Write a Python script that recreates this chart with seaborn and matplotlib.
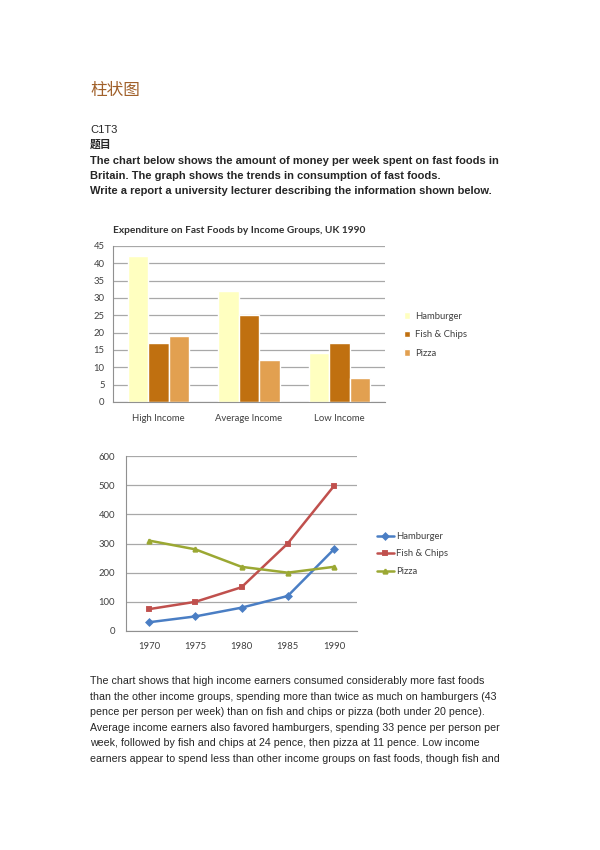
import pandas as pd
import numpy as np
import matplotlib
matplotlib.use("Agg")
import matplotlib.pyplot as plt
import seaborn as sns
from matplotlib.ticker import FixedLocator

sns.set_style("white")
plt.rcParams['font.family'] = ['Liberation Sans', 'Noto Sans CJK SC', 'DejaVu Sans']

# ---- data -----------------------------------------------------------------
income_groups = ["High Income", "Average Income", "Low Income"]
foods = ["Hamburger", "Fish & Chips", "Pizza"]
spend_hamburger = [42, 32, 14]
spend_fish = [17, 25, 17]
spend_pizza = [19, 12, 7]

years = ["1970", "1975", "1980", "1985", "1990"]
cons_hamburger = [30, 50, 80, 120, 280]
cons_fish = [75, 100, 150, 300, 497]
cons_pizza = [310, 280, 220, 200, 220]

bar_colors = ["#FFFFC0", "#C07010", "#E2A050"]
line_colors = ["#4A7EC4", "#C0504D", "#9BA833"]

bars = pd.DataFrame({
    "Group": income_groups * 3,
    "Food": [f for f in foods for _ in income_groups],
    "Pence": spend_hamburger + spend_fish + spend_pizza,
})
lines = pd.DataFrame({
    "Year": years * 3,
    "Food": [f for f in foods for _ in years],
    "Value": cons_hamburger + cons_fish + cons_pizza,
})

W, H = 600, 850
fig = plt.figure(figsize=(6, 8.5), dpi=100)

def px(x, y):
    return x / W, 1 - y / H

# ---- page text ------------------------------------------------------------
fig.text(*px(90, 90), "柱状图", fontsize=12, color="#A0602A",
         family=['Noto Sans CJK SC', 'DejaVu Sans'], va="center")
fig.text(*px(90, 130), "C1T3", fontsize=8, va="center")
fig.text(*px(90, 145), "题目", fontsize=7.8, fontweight="bold", va="center",
         family=['Noto Sans CJK SC', 'DejaVu Sans'])
prompt = ["The chart below shows the amount of money per week spent on fast foods in",
          "Britain. The graph shows the trends in consumption of fast foods.",
          "Write a report a university lecturer describing the information shown below."]
for i, s in enumerate(prompt):
    fig.text(*px(90, 161 + 15.2 * i), s, fontsize=8.0, fontweight="bold", va="center")

body = ["The chart shows that high income earners consumed considerably more fast foods",
        "than the other income groups, spending more than twice as much on hamburgers (43",
        "pence per person per week) than on fish and chips or pizza (both under 20 pence).",
        "Average income earners also favored hamburgers, spending 33 pence per person per",
        "week, followed by fish and chips at 24 pence, then pizza at 11 pence. Low income",
        "earners appear to spend less than other income groups on fast foods, though fish and"]
for i, s in enumerate(body):
    fig.text(*px(90, 681 + 15.6 * i), s, fontsize=7.62, va="center")

chart_font = ['Lato', 'DejaVu Sans']

# ---- bar chart ------------------------------------------------------------
ax1 = fig.add_axes([113 / W, 1 - 402 / H, 272 / W, 156 / H])
sns.barplot(data=bars, x="Group", y="Pence", hue="Food", palette=bar_colors,
            width=0.68, saturation=1, ax=ax1, legend=True)
ax1.set_ylim(0, 45)
ax1.set_xlim(-0.5, 2.5)
ax1.yaxis.set_major_locator(FixedLocator(np.arange(0, 46, 5)))
ax1.grid(axis="y", color="#A8A8A8", linewidth=0.9)
ax1.set_axisbelow(True)
ax1.set_xlabel("")
ax1.set_ylabel("")
for sp in ["top", "right"]:
    ax1.spines[sp].set_visible(False)
for sp in ["left", "bottom"]:
    ax1.spines[sp].set_color("#909090")
ax1.tick_params(axis="both", length=0, labelsize=6.8, colors="#404040", pad=6)
ax1.tick_params(axis="x", pad=9)
for t in ax1.get_xticklabels() + ax1.get_yticklabels():
    t.set_family(chart_font)
ax1.text(0.0, 1.1, "Expenditure on Fast Foods by Income Groups, UK 1990",
         transform=ax1.transAxes, fontsize=7.3, fontweight="bold", family=chart_font,
         color="#303030", va="center")
leg1 = ax1.legend(loc="center left", bbox_to_anchor=px(395, 335),
                  bbox_transform=fig.transFigure, frameon=False,
                  handlelength=0.7, handleheight=0.7, handletextpad=0.5,
                  labelspacing=1.0, prop={"family": chart_font, "size": 6.8})
for t in leg1.get_texts():
    t.set_color("#404040")

# ---- line chart -----------------------------------------------------------
ax2 = fig.add_axes([126 / W, 1 - 631 / H, 231 / W, 175 / H])
sns.pointplot(data=lines, x="Year", y="Value", hue="Food", palette=line_colors,
              markers=["D", "s", "^"], errorbar=None, ax=ax2,
              markersize=3.2, linewidth=1.8)
ax2.set_xlim(-0.5, 4.5)
ax2.set_ylim(0, 600)
ax2.yaxis.set_major_locator(FixedLocator(np.arange(0, 601, 100)))
ax2.grid(axis="y", color="#A8A8A8", linewidth=0.9)
ax2.set_axisbelow(True)
ax2.set_xlabel("")
ax2.set_ylabel("")
for sp in ["top", "right"]:
    ax2.spines[sp].set_visible(False)
for sp in ["left", "bottom"]:
    ax2.spines[sp].set_color("#909090")
ax2.xaxis.set_minor_locator(FixedLocator(np.arange(-0.5, 4.6, 1)))
ax2.tick_params(axis="x", which="major", length=0, pad=8)
ax2.tick_params(axis="x", which="minor", length=3, direction="out")
ax2.tick_params(axis="y", length=3, pad=5)
ax2.tick_params(axis="both", labelsize=6.8, colors="#404040")
ax2.tick_params(axis="both", which="both", color="#909090")
for t in ax2.get_xticklabels() + ax2.get_yticklabels():
    t.set_family(chart_font)
leg2 = ax2.legend(loc="center left", bbox_to_anchor=px(368, 554),
                  bbox_transform=fig.transFigure, frameon=False,
                  handlelength=1.8, handletextpad=0.3, labelspacing=0.9,
                  prop={"family": chart_font, "size": 6.8})
for t in leg2.get_texts():
    t.set_color("#404040")

fig.savefig("out.png", dpi=100, facecolor="white")
